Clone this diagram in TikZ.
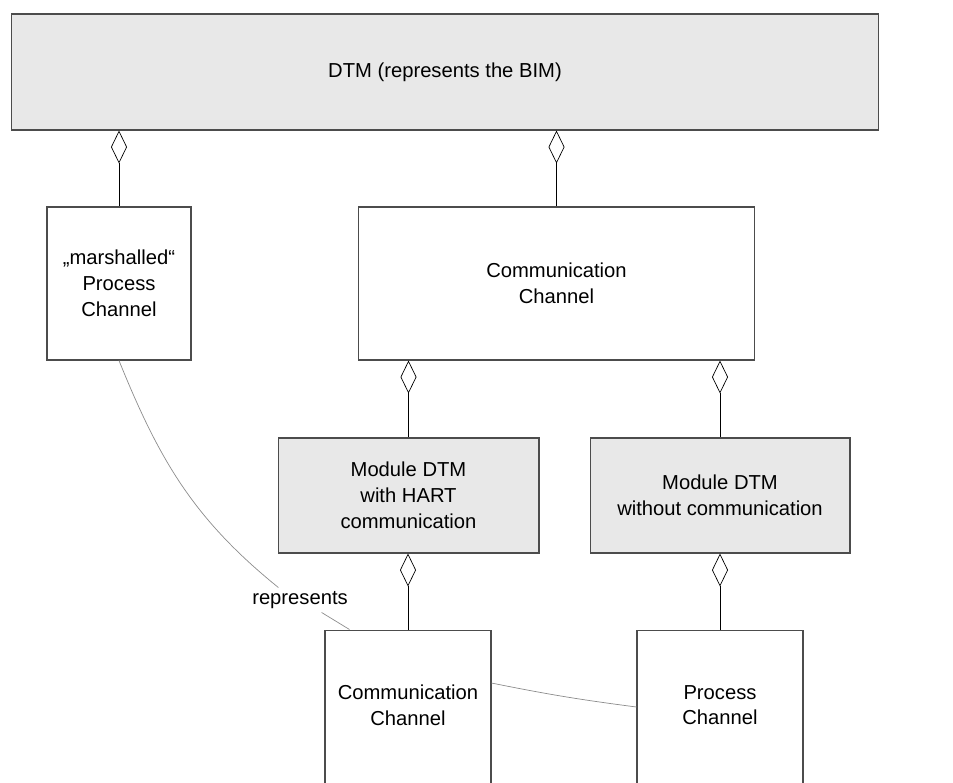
\documentclass[tikz,border=0pt]{standalone}
\usepackage{fontspec}
\setmainfont{Liberation Sans}
\usepackage{tikz}
\usetikzlibrary{arrows.meta}

\begin{document}
\begin{tikzpicture}[x=0.02cm, y=-0.02cm, font=\fontsize{11.5}{14.7}\selectfont]
			\tikzstyle{box} = [draw=black!70, line width=0.6pt, align=center, inner sep=0pt]
			\tikzstyle{greybox} = [box, fill=black!9]
			\tikzstyle{agg} = [{Diamond[open, length=0.66cm, width=0.32cm]}-, line width=0.4pt]
			\tikzstyle{link} = [draw=black!45, line width=0.4pt]
			\clip (0,0) rectangle (953,782);
			\begin{scope}
			\path
			node[greybox, minimum width=17.36cm, minimum height=2.32cm] (dtm) at (445,72) {DTM (represents the BIM)}
			node[box, minimum width=2.88cm, minimum height=3.06cm] (marsh) at (119,283.5) {„marshalled“\\Process\\Channel}
			node[box, minimum width=7.94cm, minimum height=3.06cm] (comm) at (556.5,283.5) {Communication\\Channel}
			node[greybox, minimum width=5.22cm, minimum height=2.3cm] (hart) at (408.5,495.5) {Module DTM\\with HART\\communication}
			node[greybox, minimum width=5.2cm, minimum height=2.3cm] (nocomm) at (720,495.5) {Module DTM\\without communication}
			node[box, text depth=0.2cm, minimum width=3.32cm, minimum height=3.2cm] (chan) at (408,710) {Communication\\Channel}
			node[box, text depth=0.2cm, minimum width=3.32cm, minimum height=3.2cm] (proc) at (720,710) {Process\\Channel}
			node[inner sep=2pt] (rep) at (300,600) {represents}
			;

			\draw[agg] (dtm.south -| marsh.north) -- (marsh.north);
			\draw[agg] (dtm.south -| comm.north) -- (comm.north);
			\draw[agg] (comm.south -| hart.north) -- (hart.north);
			\draw[agg] (comm.south -| nocomm.north) -- (nocomm.north);
			\draw[agg] (hart.south -| chan.north) -- (chan.north);
			\draw[agg] (nocomm.south) -- (proc.north);

			\draw[link] (marsh.south) to[out=-68, in=141] (rep.150);
			\draw[link] (rep.-30) -- ([xshift=0.5cm]chan.north west);
			\draw[link] ([yshift=0.54cm]chan.east) to[bend right=2] ([yshift=0.06cm]proc.west);
			\end{scope}
\end{tikzpicture}
\end{document}
